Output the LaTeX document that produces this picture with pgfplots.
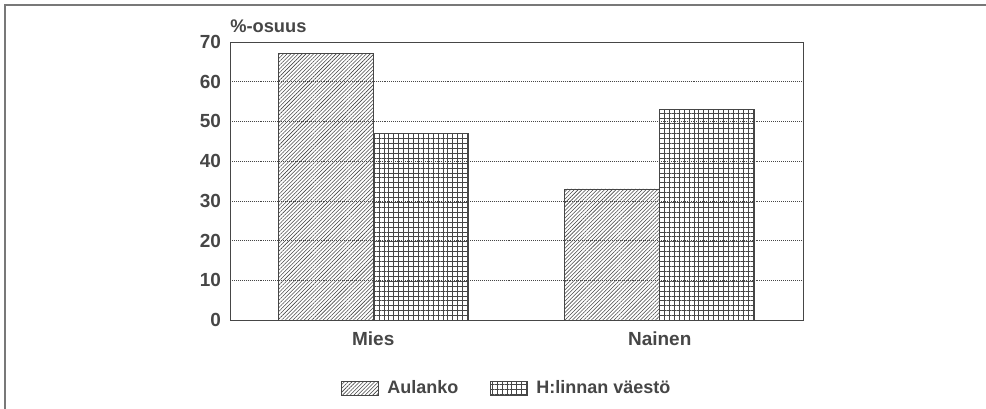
\documentclass[border=0pt]{standalone}
\usepackage{fontspec}
\setmainfont{Liberation Sans}
\usepackage{pgfplots}
\pgfplotsset{compat=1.18}
\usetikzlibrary{patterns.meta}
\definecolor{inkGray}{RGB}{70,70,70}
\definecolor{frameGray}{RGB}{120,120,120}

\begin{document}
\begin{tikzpicture}
  % page is 986x409 px, 1px = 0.25mm
  \useasboundingbox (0,0) rectangle (246.5mm,102.25mm);
  \draw[frameGray, line width=0.5mm] (1.25mm,0) -- (1.25mm,101mm) -- (246.5mm,101mm);
  \begin{axis}[
      at={(57.5mm,22.25mm)}, anchor=south west,
      scale only axis,
      width=143.25mm, height=69.5mm,
      xmin=-0.5, xmax=1.5,
      ymin=0, ymax=70,
      ytick={0,10,...,70},
      xtick={0,1},
      xticklabels={Mies,Nainen},
      major tick length=0pt,
      axis line style={draw=inkGray, line width=0.6pt},
      ymajorgrids=true,
      grid style={draw=inkGray, densely dotted, line width=0.5pt},
      bar width=0.332,
      ybar,
      clip=false,
      /pgf/number format/assume math mode=true,
      tick label style={font=\fontsize{13.5}{15}\selectfont\bfseries, text=inkGray},
      yticklabel style={xshift=-1mm},
      xticklabel style={yshift=-1.6mm},
      legend columns=2,
      legend style={at={(rel axis cs:0.484,-0.245)}, anchor=center, draw=none,
        font=\fontsize{12.8}{15}\selectfont\bfseries, text=inkGray,
        /tikz/every even column/.append style={column sep=7.3mm}},
      legend image code/.code={\draw[#1] (0,-1.75mm) rectangle (9.25mm,1.75mm); \path (10.6mm,0);},
    ]
    \addplot[draw=inkGray, line width=0.6pt, pattern={Lines[angle=45,distance=1.9pt,line width=0.4pt]}, pattern color=inkGray, bar shift=-0.166]
      coordinates {(0,67) (1,33)};
    \addplot[draw=inkGray, line width=0.6pt, pattern={Hatch[angle=0,distance=3.5pt,line width=0.4pt]}, pattern color=inkGray, bar shift=0.166]
      coordinates {(0,47) (1,53)};
    \legend{Aulanko, H:linnan väestö}
    \node[anchor=base west, inner sep=0pt, text=inkGray, font=\fontsize{13}{15}\selectfont\bfseries]
      at (rel axis cs:0,1) [yshift=2.4mm] {\%-osuus};
  \end{axis}
\end{tikzpicture}
\end{document}
